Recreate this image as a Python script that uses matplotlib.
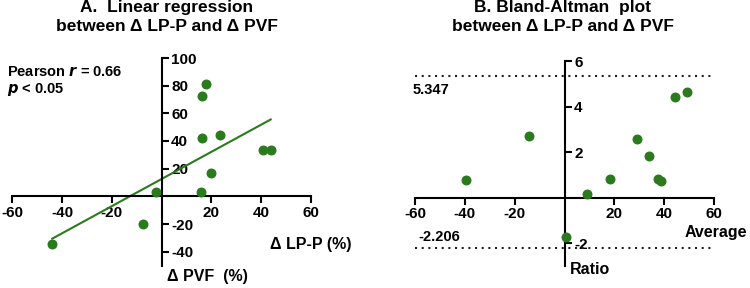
"""
Linear regression and Bland-Altman plot of delta LP-P vs delta PVF
"""
import numpy
import matplotlib
matplotlib.use('Agg')
import matplotlib.pyplot as plt

plt.rcParams['font.family'] = ['Liberation Sans', 'DejaVu Sans']
plt.rcParams['font.weight'] = 'bold'

# panel A: delta LP-P (x) vs delta PVF (y)
lpp_delta = [17.8, 16.2, 16.2, 23.7, 40.8, 43.9, 20.0, 15.9, -2.2, -7.6, -43.9]
pvf_delta = [81.0, 72.3, 42.4, 44.3, 33.7, 33.5, 16.9, 2.9, 3.4, -20.2, -34.7]

# panel B: Bland-Altman average vs ratio
ba_average = [-39.4, -14.1, 9.0, 18.4, 29.2, 34.0, 37.4, 38.7, 44.5, 49.3, 0.5]
ba_ratio = [0.78, 2.71, 0.16, 0.81, 2.58, 1.84, 0.81, 0.73, 4.44, 4.64, -1.73]
loa_upper = 5.347
loa_lower = -2.206

xticks = [-60, -40, -20, 20, 40, 60]
yticks_a = [-40, -20, 20, 40, 60, 80, 100]
yticks_b = [-2, 2, 4, 6]

green = '#2b7a1e'
W, H = 750, 288


def setup_axes(ax, ylim, yticks):
    ax.set_xlim(-60, 60)
    ax.set_ylim(*ylim)
    ax.spines['top'].set_visible(False)
    ax.spines['left'].set_visible(False)
    ax.spines['right'].set_position(('data', 0))
    ax.spines['bottom'].set_position(('data', 0))
    for s in ('right', 'bottom'):
        ax.spines[s].set_linewidth(1.5)
    ax.yaxis.tick_right()
    ax.set_xticks(xticks)
    ax.set_yticks(yticks)
    ax.set_xticklabels(['{:d}'.format(t) for t in xticks])
    ax.set_yticklabels(['{:d}'.format(t) for t in yticks])
    ax.tick_params(axis='both', width=1.5, length=5, labelsize=11,
                   direction='out', pad=2)
    ax.patch.set_alpha(0)


fig = plt.figure(figsize=(W / 100, H / 100), dpi=100)

# --- panel A ---
ax1 = fig.add_axes([12.3 / W, 1 - 265.5 / H, 298.4 / W, (265.5 - 58) / H])
setup_axes(ax1, (-50, 100), yticks_a)
ax1.scatter(lpp_delta, pvf_delta, s=38, color=green, zorder=3, clip_on=False)
slope, intercept = numpy.polyfit(lpp_delta, pvf_delta, 1)
xfit = numpy.array([min(lpp_delta), max(lpp_delta)])
ax1.plot(xfit, slope * xfit + intercept, color=green, lw=1.5)
fig.text(167 / W, 1 - 17 / H, 'A.  Linear regression\nbetween Δ LP-P and Δ PVF',
         ha='center', va='center', fontsize=12.5, linespacing=1.35)
fig.text(7 / W, 1 - 72 / H, 'Pearson $\\mathbfit{r}$ = 0.66', ha='left',
         va='center', fontsize=10.5)
fig.text(7 / W, 1 - 90 / H, '$\\mathbfit{p}$ < 0.05', ha='left',
         va='center', fontsize=10.5)
fig.text(352 / W, 1 - 244 / H, 'Δ LP-P (%)', ha='right', va='center',
         fontsize=11.5)
fig.text(207 / W, 1 - 276 / H, 'Δ PVF  (%)', ha='center', va='center',
         fontsize=11.5)

# --- panel B ---
ax2 = fig.add_axes([415 / W, 1 - 266 / H, 299 / W, (266 - 61) / H])
setup_axes(ax2, (-3, 6), yticks_b)
ax2.scatter(ba_average, ba_ratio, s=38, color=green, zorder=3, clip_on=False)
ax2.hlines([loa_upper, loa_lower], -60, 60, colors='#222222',
           linestyles=(0, (1, 2.2)), lw=1.5)
fig.text(563 / W, 1 - 17 / H, 'B. Bland-Altman  plot\nbetween Δ LP-P and Δ PVF',
         ha='center', va='center', fontsize=12.5, linespacing=1.35)
fig.text(413 / W, 1 - 90 / H, '{:.3f}'.format(loa_upper), ha='left',
         va='center', fontsize=10.5)
fig.text(418 / W, 1 - 237 / H, '{:.3f}'.format(loa_lower), ha='left',
         va='center', fontsize=10.5)
fig.text(747 / W, 1 - 232 / H, 'Average', ha='right', va='center',
         fontsize=11.5)
fig.text(570 / W, 1 - 269 / H, 'Ratio', ha='left', va='center',
         fontsize=11.5)

fig.savefig('out.png', dpi=100)
